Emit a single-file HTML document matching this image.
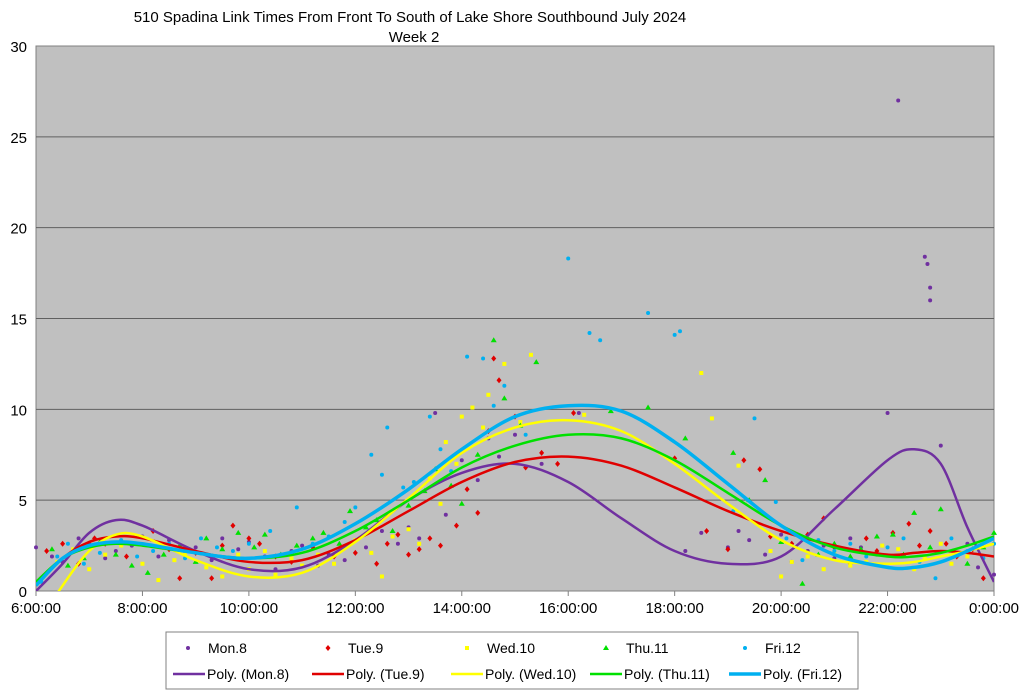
<!DOCTYPE html>
<html><head><meta charset="utf-8"><style>
body{margin:0;background:#fff;width:1024px;height:694px;overflow:hidden;font-family:"Liberation Sans",Arial,sans-serif}
</style></head><body>
<svg id="c" width="1024" height="694" xmlns="http://www.w3.org/2000/svg" font-family="Liberation Sans, Arial, sans-serif">
<text x="410" y="22" font-size="15" text-anchor="middle">510 Spadina Link Times From Front To South of Lake Shore Southbound July 2024</text>
<text x="414" y="42" font-size="15" text-anchor="middle">Week 2</text>
<rect x="36" y="46" width="958" height="545" fill="#c0c0c0" stroke="#808080"/>
<g id="grid"></g><g id="axes"></g><g id="pts"></g><g id="curves"></g>
<g id="legend"></g>
</svg>
<script>
const xTicks=[6,8,10,12,14,16,18,20,22,24];
const xTickLabels=["6:00:00","8:00:00","10:00:00","12:00:00","14:00:00","16:00:00","18:00:00","20:00:00","22:00:00","0:00:00"];
const yTicks=[0,5,10,15,20,25,30];
const seriesNames=["Mon.8","Tue.9","Wed.10","Thu.11","Fri.12"];
const curveHours=[6,6.5,7,7.5,8,9,10,11,12,13,14,15,16,17,18,19,20,21,22,22.5,23,23.5,24];
const monCurve=[0,1.5,3.2,3.9,3.6,2.2,1.2,1.3,2.8,5.0,6.5,7.0,6.0,4.0,2.2,1.5,1.9,4.5,7.2,7.8,7.0,3.5,0.5];
const tueCurve=[0.3,1.8,2.7,3.0,2.9,2.2,1.6,1.7,2.8,4.4,6.0,7.1,7.4,6.9,5.7,4.4,3.3,2.5,2.0,2.1,2.2,2.1,1.9];
const wedCurve=[-2,0.3,2.2,3.1,3.0,1.7,0.8,1.0,2.7,5.1,7.6,9.0,9.4,8.8,7.0,4.8,2.8,1.7,1.5,1.6,1.9,2.2,2.6];
const thuCurve=[0.5,1.8,2.4,2.6,2.5,2.1,1.8,2.1,3.3,5.0,6.8,8.0,8.6,8.4,7.2,5.4,3.6,2.4,1.9,1.9,2.1,2.5,3.0];
const friCurve=[0.3,1.8,2.5,2.7,2.6,2.1,1.8,2.3,3.7,5.6,7.8,9.6,10.2,9.9,8.2,5.9,3.6,2.0,1.3,1.3,1.6,2.2,2.9];
const monPts=[[6,2.4],[6.3,1.9],[6.5,1.6],[6.8,2.9],[7,2.6],[7.3,1.8],[7.5,2.2],[7.8,2.5],[8,3.0],[8.3,1.9],[8.5,2.8],[8.8,2.1],[9,2.4],[9.3,1.7],[9.5,2.9],[9.8,2.3],[10,2.7],[10.3,1.9],[10.5,1.2],[10.8,2.2],[11,2.5],[11.3,1.4],[11.5,2.0],[11.8,1.7],[12,2.8],[12.2,2.4],[12.5,3.3],[12.8,2.6],[13,3.5],[13.2,2.9],[13.5,9.8],[13.7,4.2],[14,7.2],[14.3,6.1],[14.5,8.4],[14.7,7.4],[15,8.6],[15.5,7.0],[16.2,9.8],[18.2,2.2],[18.5,3.2],[19,2.4],[19.2,3.3],[19.4,2.8],[19.7,2.0],[20,3.1],[20.2,1.6],[20.5,2.2],[20.8,2.5],[21,1.8],[21.3,2.9],[21.5,2.4],[21.8,2.0],[22,9.8],[22.2,27.0],[22.7,18.4],[22.75,18.0],[22.8,16.7],[22.8,16.0],[23,8.0],[23.3,2.1],[23.5,2.6],[23.7,1.3],[24,0.9]];
const tuePts=[[6.2,2.2],[6.5,2.6],[6.8,1.5],[7.1,2.9],[7.3,2.6],[7.7,1.9],[8.2,3.3],[8.5,2.3],[8.7,0.7],[9,2.1],[9.3,0.7],[9.5,2.5],[9.7,3.6],[10,2.9],[10.2,2.6],[10.5,1.9],[10.8,1.6],[11.2,2.4],[11.6,1.9],[12,2.1],[12.4,1.5],[12.6,2.6],[12.8,3.1],[13,2.0],[13.2,2.3],[13.4,2.9],[13.6,2.5],[13.9,3.6],[14.1,5.6],[14.3,4.3],[14.5,8.8],[14.6,12.8],[14.7,11.6],[15.0,9.6],[15.2,6.8],[15.5,7.6],[15.8,7.0],[16.1,9.8],[18.0,7.3],[18.6,3.3],[19,2.3],[19.3,7.2],[19.6,6.7],[19.8,3.0],[20.2,2.6],[20.5,3.1],[20.8,4.0],[21.0,2.4],[21.3,1.5],[21.6,2.9],[21.8,2.2],[22.1,3.2],[22.4,3.7],[22.6,2.5],[22.8,3.3],[23.1,2.6],[23.3,1.9],[23.6,2.3],[23.8,0.7]];
const wedPts=[[6.4,1.6],[6.7,2.3],[7,1.2],[7.3,2.0],[7.6,2.5],[8,1.5],[8.3,0.6],[8.6,1.7],[8.8,2.0],[9.2,1.3],[9.5,0.8],[9.8,2.0],[10,1.2],[10.3,2.2],[10.5,0.9],[10.8,1.8],[11,1.4],[11.3,2.0],[11.6,1.5],[11.8,2.4],[12,2.8],[12.3,2.1],[12.5,0.8],[12.7,3.0],[13,3.4],[13.2,2.6],[13.4,6.2],[13.6,4.8],[13.7,8.2],[13.9,7.0],[14,9.6],[14.2,10.1],[14.4,9.0],[14.5,10.8],[14.8,12.5],[15.1,9.3],[15.3,13.0],[16.3,9.7],[18.5,12.0],[18.7,9.5],[19.2,6.9],[19.6,4.4],[19.8,2.2],[20,0.8],[20.2,1.6],[20.5,1.9],[20.8,1.2],[21,2.1],[21.3,1.4],[21.6,1.6],[21.9,2.5],[22.2,2.3],[22.5,1.2],[22.7,1.8],[23.0,2.6],[23.2,1.5],[23.5,1.9],[23.7,2.4]];
const thuPts=[[6.3,2.3],[6.6,1.4],[6.9,1.8],[7.2,2.7],[7.5,2.0],[7.8,1.4],[8.1,1.0],[8.4,2.0],[8.7,2.5],[9.0,1.6],[9.2,2.9],[9.5,2.3],[9.8,3.2],[10.1,2.4],[10.3,3.1],[10.6,2.0],[10.9,2.5],[11.2,2.9],[11.4,3.2],[11.7,2.6],[11.9,4.4],[12.2,3.5],[12.4,3.9],[12.7,3.3],[13.0,4.7],[13.3,5.5],[13.5,6.7],[13.8,5.8],[14.0,4.8],[14.3,7.5],[14.6,13.8],[14.8,10.6],[15.1,9.1],[15.4,12.6],[16.8,9.9],[17.5,10.1],[18.2,8.4],[19.1,7.6],[19.4,5.0],[19.7,6.1],[20.0,2.7],[20.4,0.4],[20.7,2.0],[21.0,2.6],[21.3,1.9],[21.5,2.3],[21.8,3.0],[22.1,3.1],[22.3,2.0],[22.5,4.3],[22.8,2.4],[23.0,4.5],[23.3,2.0],[23.5,1.5],[23.8,2.4],[24,3.2]];
const friPts=[[6.1,0.5],[6.4,1.9],[6.6,2.6],[6.9,1.5],[7.2,2.1],[7.6,2.8],[7.9,1.9],[8.2,2.2],[8.5,2.6],[8.8,1.8],[9.1,2.9],[9.4,2.4],[9.7,2.2],[10.0,2.6],[10.4,3.3],[10.6,2.0],[10.9,4.6],[11.2,2.6],[11.5,3.0],[11.8,3.8],[12.0,4.6],[12.3,7.5],[12.5,6.4],[12.6,9.0],[12.9,5.7],[13.1,6.0],[13.4,9.6],[13.6,7.8],[13.8,6.6],[14.1,12.9],[14.4,12.8],[14.6,10.2],[14.8,11.3],[15.2,8.6],[16.0,18.3],[16.4,14.2],[16.6,13.8],[17.5,15.3],[18.0,14.1],[18.1,14.3],[19.1,4.4],[19.5,9.5],[19.9,4.9],[20.1,2.9],[20.4,1.7],[20.7,2.8],[21.0,2.2],[21.3,2.6],[21.6,1.9],[22.0,2.4],[22.3,2.9],[22.6,1.6],[22.9,0.7],[23.2,2.9],[23.5,2.2],[23.8,1.8],[24,2.6]];
const colors=["#7030a0","#e00000","#ffff00","#00e000","#00b0f0"];
const curves=[monCurve,tueCurve,wedCurve,thuCurve,friCurve];
const pts=[monPts,tuePts,wedPts,thuPts,friPts];
const NS="http://www.w3.org/2000/svg";
const X=h=>36+(h-6)*958/18, Y=v=>591-v*545/30;
function mk(tag,attrs,parent){const e=document.createElementNS(NS,tag);for(const k in attrs)e.setAttribute(k,attrs[k]);parent.appendChild(e);return e;}
const grid=document.getElementById('grid'),axes=document.getElementById('axes');
yTicks.forEach(v=>{
 if(v>0&&v<30){const l=mk('line',{x1:36,x2:994,y1:Y(v),y2:Y(v),stroke:'#606060','stroke-width':1},grid);
 
 }
 const t=mk('text',{x:27,y:Y(v)+6,'font-size':15,'text-anchor':'end'},axes);t.textContent=v;
 
 
});
xTicks.forEach((h,i)=>{
 mk('line',{x1:X(h),x2:X(h),y1:591,y2:596,stroke:'#808080'},axes);
 const t=mk('text',{x:X(h),y:613,'font-size':15,'text-anchor':'middle'},axes);t.textContent=xTickLabels[i];
 
 
});
const cg=document.getElementById('curves');
const cp=mk('clipPath',{id:'cp'},cg);
mk('rect',{x:36,y:46,width:958,height:545},cp);
function smooth(p){let d=`M${p[0][0]},${p[0][1]}`;for(let i=0;i<p.length-1;i++){const p0=p[i-1]||p[i],p1=p[i],p2=p[i+1],p3=p[i+2]||p2;
 d+=` C${p1[0]+(p2[0]-p0[0])/6},${p1[1]+(p2[1]-p0[1])/6} ${p2[0]-(p3[0]-p1[0])/6},${p2[1]-(p3[1]-p1[1])/6} ${p2[0]},${p2[1]}`;}return d;}
const pg=document.getElementById('pts');
function marker(k,x,y,g){const c=colors[k];
 if(k===0||k===4)return mk('circle',{cx:x,cy:y,r:2,fill:c},g);
 if(k===1)return mk('polygon',{points:`${x},${y-3} ${x+2.5},${y} ${x},${y+3} ${x-2.5},${y}`,fill:c},g);
 if(k===2)return mk('rect',{x:x-2,y:y-2,width:4,height:4,fill:c},g);
 return mk('polygon',{points:`${x},${y-3} ${x+3},${y+2} ${x-3},${y+2}`,fill:c},g);}
pts.forEach((arr,k)=>arr.forEach(p=>{const m=marker(k,X(p[0]),Y(p[1]),pg);
 
 }));
curves.forEach((cv,k)=>{const p=curveHours.map((h,i)=>[X(h),Y(cv[i])]);
 const e=mk('path',{d:smooth(p),fill:'none',stroke:colors[k],'stroke-width':k===4?3.5:2.5,'clip-path':'url(#cp)'},cg);
 
 });
const lg=document.getElementById('legend');
mk('rect',{x:166,y:632,width:692,height:57,fill:'#fff',stroke:'#808080'},lg);
const mx=[188,328,467,606,745];
const lineX=[173,312,451,590,729];
seriesNames.forEach((n,k)=>{
 marker(k,mx[k],648,lg);
 const t=mk('text',{x:mx[k]+20,y:653,'font-size':14},lg);t.textContent=n;
 
 
 const x0=lineX[k];
 mk('line',{x1:x0,x2:x0+32,y1:674,y2:674,stroke:colors[k],'stroke-width':k===4?3.5:2.5},lg);
 const t2=mk('text',{x:x0+34,y:679,'font-size':14},lg);t2.textContent='Poly. ('+n+')';
 
 
});
</script>
</body></html>
